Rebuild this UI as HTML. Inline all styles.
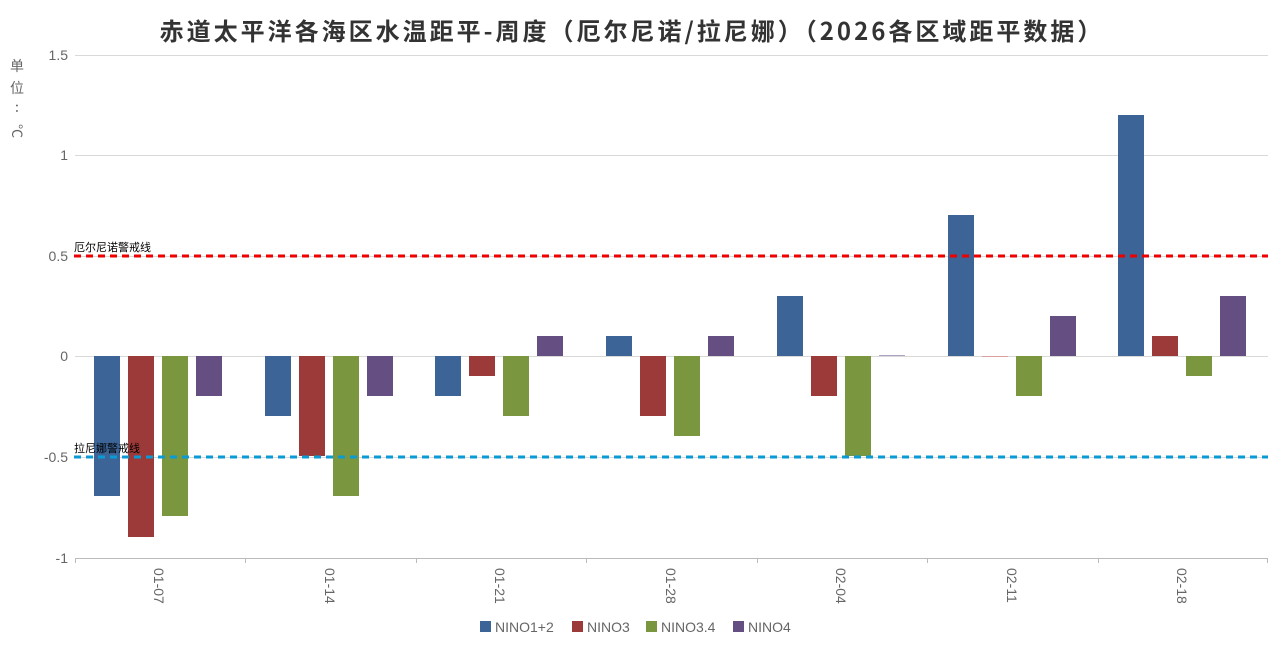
<!DOCTYPE html>
<html><head><meta charset="utf-8"><style>
html,body{margin:0;padding:0;background:#fff;}
svg{display:block;font-family:"Liberation Sans","Noto Sans CJK SC",sans-serif;}
</style></head><body>
<svg width="1276" height="651" viewBox="0 0 1276 651" xmlns="http://www.w3.org/2000/svg">
<text x="632" y="40" text-anchor="middle" font-size="24" font-weight="bold" fill="#333" letter-spacing="3" font-family="'Noto Sans CJK SC',sans-serif">赤道太平洋各海区水温距平-周度（厄尔尼诺/拉尼娜）（2026各区域距平数据）</text>
<g font-size="14" fill="#666" font-family="'Noto Sans CJK SC',sans-serif">
<text x="17" y="71" text-anchor="middle">单</text>
<text x="17" y="93" text-anchor="middle">位</text>
<text x="17" y="112" text-anchor="middle">:</text>
<text transform="translate(12,124) rotate(90)">°C</text>
</g>
<g stroke="#d9d9d9" stroke-width="1">
<line x1="75" y1="55.5" x2="1268" y2="55.5"/>
<line x1="75" y1="155.5" x2="1268" y2="155.5"/>
<line x1="75" y1="256.5" x2="1268" y2="256.5"/>
<line x1="75" y1="356.5" x2="1268" y2="356.5"/>
<line x1="75" y1="457.5" x2="1268" y2="457.5"/>
</g>
<line x1="75" y1="558.5" x2="1268" y2="558.5" stroke="#bbb"/>
<g stroke="#bbb">
<line x1="75.5" y1="558" x2="75.5" y2="563"/><line x1="245.5" y1="558" x2="245.5" y2="563"/><line x1="416.5" y1="558" x2="416.5" y2="563"/><line x1="586.5" y1="558" x2="586.5" y2="563"/><line x1="757.5" y1="558" x2="757.5" y2="563"/><line x1="927.5" y1="558" x2="927.5" y2="563"/><line x1="1098.5" y1="558" x2="1098.5" y2="563"/><line x1="1267.5" y1="558" x2="1267.5" y2="563"/>
</g>
<g font-size="14" fill="#666" text-anchor="end">
<text x="68" y="60">1.5</text><text x="68" y="160">1</text><text x="68" y="261">0.5</text><text x="68" y="361">0</text><text x="68" y="462">-0.5</text><text x="68" y="563">-1</text>
</g>
<g font-size="14" fill="#666">
<text transform="translate(154,568) rotate(90)">01-07</text>
<text transform="translate(325,568) rotate(90)">01-14</text>
<text transform="translate(495,568) rotate(90)">01-21</text>
<text transform="translate(666,568) rotate(90)">01-28</text>
<text transform="translate(836,568) rotate(90)">02-04</text>
<text transform="translate(1007,568) rotate(90)">02-11</text>
<text transform="translate(1177,568) rotate(90)">02-18</text>
</g>
<g>
<rect x="94" y="356" width="26" height="140" fill="#3c6496"/>
<rect x="128" y="356" width="26" height="181" fill="#9b3a38"/>
<rect x="162" y="356" width="26" height="160" fill="#7a963f"/>
<rect x="196" y="356" width="26" height="40" fill="#654f82"/>
<rect x="265" y="356" width="26" height="60" fill="#3c6496"/>
<rect x="299" y="356" width="26" height="100" fill="#9b3a38"/>
<rect x="333" y="356" width="26" height="140" fill="#7a963f"/>
<rect x="367" y="356" width="26" height="40" fill="#654f82"/>
<rect x="435" y="356" width="26" height="40" fill="#3c6496"/>
<rect x="469" y="356" width="26" height="20" fill="#9b3a38"/>
<rect x="503" y="356" width="26" height="60" fill="#7a963f"/>
<rect x="537" y="336" width="26" height="20" fill="#654f82"/>
<rect x="606" y="336" width="26" height="20" fill="#3c6496"/>
<rect x="640" y="356" width="26" height="60" fill="#9b3a38"/>
<rect x="674" y="356" width="26" height="80" fill="#7a963f"/>
<rect x="708" y="336" width="26" height="20" fill="#654f82"/>
<rect x="777" y="296" width="26" height="60" fill="#3c6496"/>
<rect x="811" y="356" width="26" height="40" fill="#9b3a38"/>
<rect x="845" y="356" width="26" height="100" fill="#7a963f"/>
<rect x="879" y="355" width="26" height="1" fill="#b0a3c4"/>
<rect x="948" y="215" width="26" height="141" fill="#3c6496"/>
<rect x="982" y="356" width="26" height="1" fill="#d9a09f"/>
<rect x="1016" y="356" width="26" height="40" fill="#7a963f"/>
<rect x="1050" y="316" width="26" height="40" fill="#654f82"/>
<rect x="1118" y="115" width="26" height="241" fill="#3c6496"/>
<rect x="1152" y="336" width="26" height="20" fill="#9b3a38"/>
<rect x="1186" y="356" width="26" height="20" fill="#7a963f"/>
<rect x="1220" y="296" width="26" height="60" fill="#654f82"/>
</g>
<line x1="74" y1="256" x2="1268" y2="256" stroke="#ee0000" stroke-width="3" stroke-dasharray="7,5"/>
<line x1="74" y1="457" x2="1268" y2="457" stroke="#0a9ad4" stroke-width="3" stroke-dasharray="7,5"/>
<g font-size="11" fill="#000" font-family="'Noto Sans CJK SC',sans-serif">
<text x="74" y="251">厄尔尼诺警戒线</text>
<text x="74" y="452">拉尼娜警戒线</text>
</g>
<g font-size="14" fill="#666">
<rect x="480" y="621" width="11" height="11" fill="#3c6496"/><text x="495" y="632">NINO1+2</text>
<rect x="572" y="621" width="11" height="11" fill="#9b3a38"/><text x="587" y="632">NINO3</text>
<rect x="646" y="621" width="11" height="11" fill="#7a963f"/><text x="661" y="632">NINO3.4</text>
<rect x="733" y="621" width="11" height="11" fill="#654f82"/><text x="748" y="632">NINO4</text>
</g>
</svg>
</body></html>
